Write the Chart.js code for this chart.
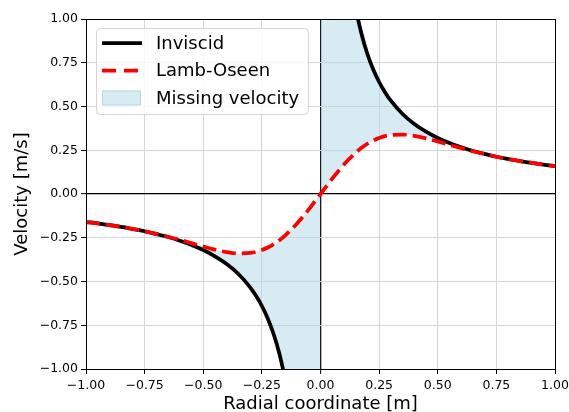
<!DOCTYPE html>
<html><head><meta charset="utf-8">
<script src="https://cdn.jsdelivr.net/npm/chart.js@4.4.0/dist/chart.umd.min.js"></script>
<style>html,body{margin:0;padding:0;background:#fff;}#wrap{width:569px;height:412px;}</style>
</head><body><div id="wrap"><canvas id="c" width="569" height="412"></canvas></div>
<script>
// Radial coordinate samples [m]
const radius = [-1.0,-0.95,-0.9,-0.85,-0.8,-0.75,-0.7,-0.65,-0.6,-0.55,-0.5,-0.45,-0.4,-0.35,-0.3,-0.275,-0.25,-0.225,-0.2,-0.175,-0.15,-0.125,-0.1,-0.075,-0.05,-0.025,
  0,
  0.025,0.05,0.075,0.1,0.125,0.15,0.175,0.2,0.225,0.25,0.275,0.3,0.35,0.4,0.45,0.5,0.55,0.6,0.65,0.7,0.75,0.8,0.85,0.9,0.95,1.0];
// Inviscid velocity [m/s] (undefined at r = 0)
const inviscidVelocity = [-0.16,-0.168,-0.178,-0.188,-0.2,-0.213,-0.229,-0.246,-0.267,-0.291,-0.32,-0.356,-0.4,-0.457,-0.533,-0.582,-0.64,-0.711,-0.8,-0.914,-1.067,-1.28,-1.6,-2.133,-3.2,-6.4,
  null,
  6.4,3.2,2.133,1.6,1.28,1.067,0.914,0.8,0.711,0.64,0.582,0.533,0.457,0.4,0.356,0.32,0.291,0.267,0.246,0.229,0.213,0.2,0.188,0.178,0.168,0.16];
// Lamb-Oseen velocity [m/s]
const lambOseenVelocity = [-0.16,-0.168,-0.178,-0.188,-0.2,-0.213,-0.228,-0.244,-0.262,-0.281,-0.3,-0.318,-0.332,-0.34,-0.337,-0.331,-0.32,-0.306,-0.287,-0.264,-0.236,-0.204,-0.168,-0.129,-0.088,-0.044,
  0,
  0.044,0.088,0.129,0.168,0.204,0.236,0.264,0.287,0.306,0.32,0.331,0.337,0.34,0.332,0.318,0.3,0.281,0.262,0.244,0.228,0.213,0.2,0.188,0.178,0.168,0.16];
// Missing-velocity region reaches the axis limit at r = 0
const missingEdgeLeft = -1.0;
const missingEdgeRight = 1.0;
// Axis ticks
const tickValues = [-1,-0.75,-0.5,-0.25,0,0.25,0.5,0.75,1];
const tickLabels = ['\u22121.00','\u22120.75','\u22120.50','\u22120.25','0.00','0.25','0.50','0.75','1.00'];

const FONT = '"DejaVu Sans", Verdana, sans-serif';
const fillColor = 'rgba(173,216,230,0.5)';

const pts = (ys) => radius.map((r, i) => ({x: r, y: ys[i]}));
const inviscidPts = pts(inviscidVelocity);
const lambPts = pts(lambOseenVelocity);
const fillRightPts = [{x: 0, y: missingEdgeRight}].concat(inviscidPts.filter(p => p.x > 0));
const fillLeftPts = inviscidPts.filter(p => p.x < 0).concat([{x: 0, y: missingEdgeLeft}]);

const tickLabel = (v) => {
  const i = tickValues.findIndex(t => Math.abs(t - v) < 1e-9);
  return i >= 0 ? tickLabels[i] : '';
};

const frame = {
  id: 'frame',
  afterDatasetsDraw(chart) {
    const {ctx, chartArea: a} = chart;
    ctx.save();
    ctx.strokeStyle = '#000';
    ctx.lineWidth = 1;
    ctx.strokeRect(Math.round(a.left) + 0.5, Math.round(a.top) + 0.5, Math.round(a.right - a.left), Math.round(a.bottom - a.top));
    ctx.restore();
  }
};

const legendBox = {
  id: 'legendBox',
  afterDraw(chart) {
    const {ctx} = chart;
    const ds = chart.data.datasets;
    const x0 = 96.5, y0 = 28.5, w = 212, h = 86, r = 4;
    ctx.save();
    ctx.beginPath();
    ctx.moveTo(x0 + r, y0);
    ctx.arcTo(x0 + w, y0, x0 + w, y0 + h, r);
    ctx.arcTo(x0 + w, y0 + h, x0, y0 + h, r);
    ctx.arcTo(x0, y0 + h, x0, y0, r);
    ctx.arcTo(x0, y0, x0 + w, y0, r);
    ctx.closePath();
    ctx.fillStyle = 'rgba(255,255,255,0.8)';
    ctx.fill();
    ctx.strokeStyle = 'rgba(204,204,204,0.8)';
    ctx.lineWidth = 1;
    ctx.stroke();
    const rows = [43, 70.5, 98];
    const items = [ds[0], ds[1], ds[2]];
    ctx.font = '18px ' + FONT;
    ctx.textBaseline = 'middle';
    ctx.fillStyle = '#000';
    items.forEach((d, i) => {
      const y = rows[i];
      if (i < 2) {
        ctx.beginPath();
        ctx.strokeStyle = d.borderColor;
        ctx.lineWidth = d.borderWidth;
        ctx.setLineDash(i === 1 ? [14, 8] : []);
        ctx.moveTo(102, y);
        ctx.lineTo(142, y);
        ctx.stroke();
        ctx.setLineDash([]);
      } else {
        ctx.fillStyle = d.backgroundColor;
        ctx.fillRect(102, y - 7.5, 39, 15);
        ctx.strokeStyle = 'rgba(150,200,215,0.5)';
        ctx.lineWidth = 1;
        ctx.strokeRect(102.5, y - 7, 38, 14);
      }
      ctx.fillStyle = '#000';
      ctx.fillText(d.label, 156, y + 1);
    });
    ctx.restore();
  }
};

const gridColor = (c) => (c.tick && Math.abs(c.tick.value) < 1e-9) ? '#000' : '#d6d6d6';
const gridWidth = (c) => (c.tick && Math.abs(c.tick.value) < 1e-9) ? 1.3 : 1;

new Chart(document.getElementById('c'), {
  type: 'line',
  data: {
    datasets: [
      {label: 'Inviscid', data: inviscidPts, borderColor: '#000', borderWidth: 3.75, pointRadius: 0,
       cubicInterpolationMode: 'monotone', fill: false, clip: 0, order: 1, spanGaps: false},
      {label: 'Lamb-Oseen', data: lambPts, borderColor: '#ff0000', borderWidth: 3.75, borderDash: [13.9, 6],
       pointRadius: 0, cubicInterpolationMode: 'monotone', fill: false, clip: 0, order: 0, borderCapStyle: 'butt'},
      {label: 'Missing velocity', data: fillRightPts, borderWidth: 0, borderColor: 'rgba(0,0,0,0)', pointRadius: 0,
       backgroundColor: fillColor, cubicInterpolationMode: 'monotone', fill: {target: 1}, order: 2},
      {label: 'Missing velocity (r<0)', data: fillLeftPts, borderWidth: 0, borderColor: 'rgba(0,0,0,0)', pointRadius: 0,
       backgroundColor: fillColor, cubicInterpolationMode: 'monotone', fill: {target: 1}, order: 2}
    ]
  },
  options: {
    responsive: false,
    devicePixelRatio: 1,
    animation: false,
    layout: {padding: {left: 0, right: 14, top: 19, bottom: 0}},
    elements: {line: {capBezierPoints: false}},
    plugins: {legend: {display: false}, tooltip: {enabled: false}},
    scales: {
      x: {
        type: 'linear', min: -1, max: 1,
        afterFit: (s) => { s.height = 43; s.paddingLeft = 0; s.paddingRight = 0; },
        afterBuildTicks: (s) => { s.ticks = tickValues.map(v => ({value: v})); },
        ticks: {callback: tickLabel, font: {family: FONT, size: 12.5}, color: '#000', padding: 4, maxRotation: 0, autoSkip: false},
        grid: {color: gridColor, lineWidth: gridWidth, tickColor: '#000', tickLength: 5, tickWidth: 1},
        border: {color: '#000', width: 1},
        title: {display: true, text: 'Radial coordinate [m]', font: {family: FONT, size: 18}, color: '#000', padding: {top: 0, bottom: -3}}
      },
      y: {
        type: 'linear', min: -1, max: 1,
        afterFit: (s) => { s.width = 86; s.paddingTop = 0; s.paddingBottom = 0; },
        afterBuildTicks: (s) => { s.ticks = tickValues.map(v => ({value: v})); },
        ticks: {callback: tickLabel, font: {family: FONT, size: 12.5}, color: '#000', padding: 3, autoSkip: false},
        grid: {color: gridColor, lineWidth: gridWidth, tickColor: '#000', tickLength: 5, tickWidth: 1},
        border: {color: '#000', width: 1},
        title: {display: true, text: 'Velocity [m/s]', font: {family: FONT, size: 18}, color: '#000', padding: {top: 12, bottom: 0}}
      }
    }
  },
  plugins: [frame, legendBox]
});
</script></body></html>
